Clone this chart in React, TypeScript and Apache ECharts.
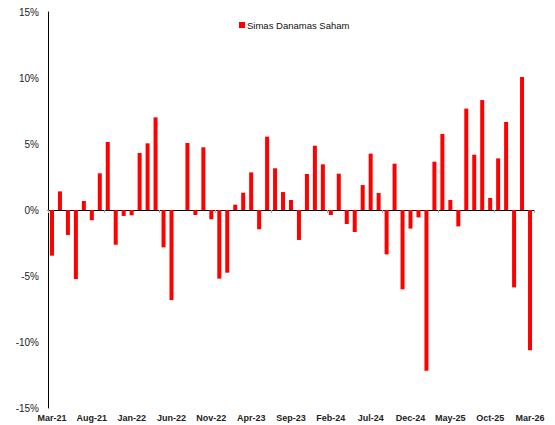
import React, { useEffect, useRef } from "react";
import * as echarts from "echarts";

const seriesName = "Simas Danamas Saham";
const monthNames = ["Jan", "Feb", "Mar", "Apr", "May", "Jun", "Jul", "Aug", "Sep", "Oct", "Nov", "Dec"];
const startYear = 2021;
const startMonth = 2; // Mar
const monthCount = 61;
const categories: string[] = [];
for (let i = 0; i < monthCount; i++) {
  const m = (startMonth + i) % 12;
  const y = startYear + Math.floor((startMonth + i) / 12);
  categories.push(`${monthNames[m]}-${String(y).slice(2)}`);
}
const returns = [
  -3.46, 1.41, -1.89, -5.23, 0.68, -0.78, 2.78, 5.15, -2.63, -0.45,
  -0.4, 4.32, 5.05, 7.02, -2.83, -6.82, 0.0, 5.08, -0.38, 4.75,
  -0.7, -5.2, -4.75, 0.4, 1.31, 2.85, -1.46, 5.56, 3.16, 1.36,
  0.76, -2.27, 2.73, 4.87, 3.46, -0.38, 2.75, -1.06, -1.67, 1.89,
  4.27, 1.29, -3.36, 3.51, -6.01, -1.41, -0.56, -12.17, 3.66, 5.76,
  0.76, -1.24, 7.68, 4.19, 8.33, 0.91, 3.91, 6.67, -5.86, 10.08,
  -10.63,
];
const yMin = -15;
const yMax = 15;
const yStep = 5;

export default function App() {
  const ref = useRef<HTMLDivElement>(null);
  useEffect(() => {
    if (!ref.current) return;
    const chart = echarts.init(ref.current, null, { renderer: "svg" });
    const font = "'Liberation Sans', Arial, sans-serif";
    chart.setOption({
      animation: false,
      textStyle: { fontFamily: font },
      legend: {
        data: [seriesName],
        left: 234,
        top: 15,
        icon: "rect",
        itemWidth: 6,
        itemHeight: 6,
        itemGap: 2,
        textStyle: { fontSize: 9.5, color: "#111", fontFamily: font, padding: [0, 0, 0, -3] },
      },
      grid: { left: 48, right: 21, top: 12, bottom: 17, containLabel: false },
      xAxis: [
        {
          type: "category",
          data: categories,
          axisLine: { onZero: true, lineStyle: { color: "#000", width: 1 } },
          axisTick: { show: true, length: 3, lineStyle: { color: "#aaa" } },
          axisLabel: { show: false },
          splitLine: { show: false },
        },
        {
          type: "category",
          data: categories,
          position: "bottom",
          offset: 0,
          axisLine: { show: false, onZero: false },
          axisTick: { show: false },
          axisLabel: {
            show: true,
            interval: 4,
            margin: 5,
            fontSize: 9,
            fontWeight: "bold",
            color: "#222",
            fontFamily: font,
          },
          splitLine: { show: false },
        },
      ],
      yAxis: {
        type: "value",
        min: yMin,
        max: yMax,
        interval: yStep,
        axisLine: { show: true, lineStyle: { color: "#000", width: 1 } },
        axisTick: { show: false },
        splitLine: { show: false },
        axisLabel: {
          formatter: (v: number) => `${v}%`,
          fontSize: 10,
          color: "#222",
          margin: 9,
          fontFamily: font,
        },
      },
      series: [
        {
          name: seriesName,
          type: "bar",
          data: returns,
          barWidth: 4,
          itemStyle: { color: "#ff0000" },
          xAxisIndex: 0,
        },
      ],
    });
    return () => chart.dispose();
  }, []);
  return <div ref={ref} style={{ width: 555, height: 425, marginLeft: -8, marginTop: -8 }} />;
}
